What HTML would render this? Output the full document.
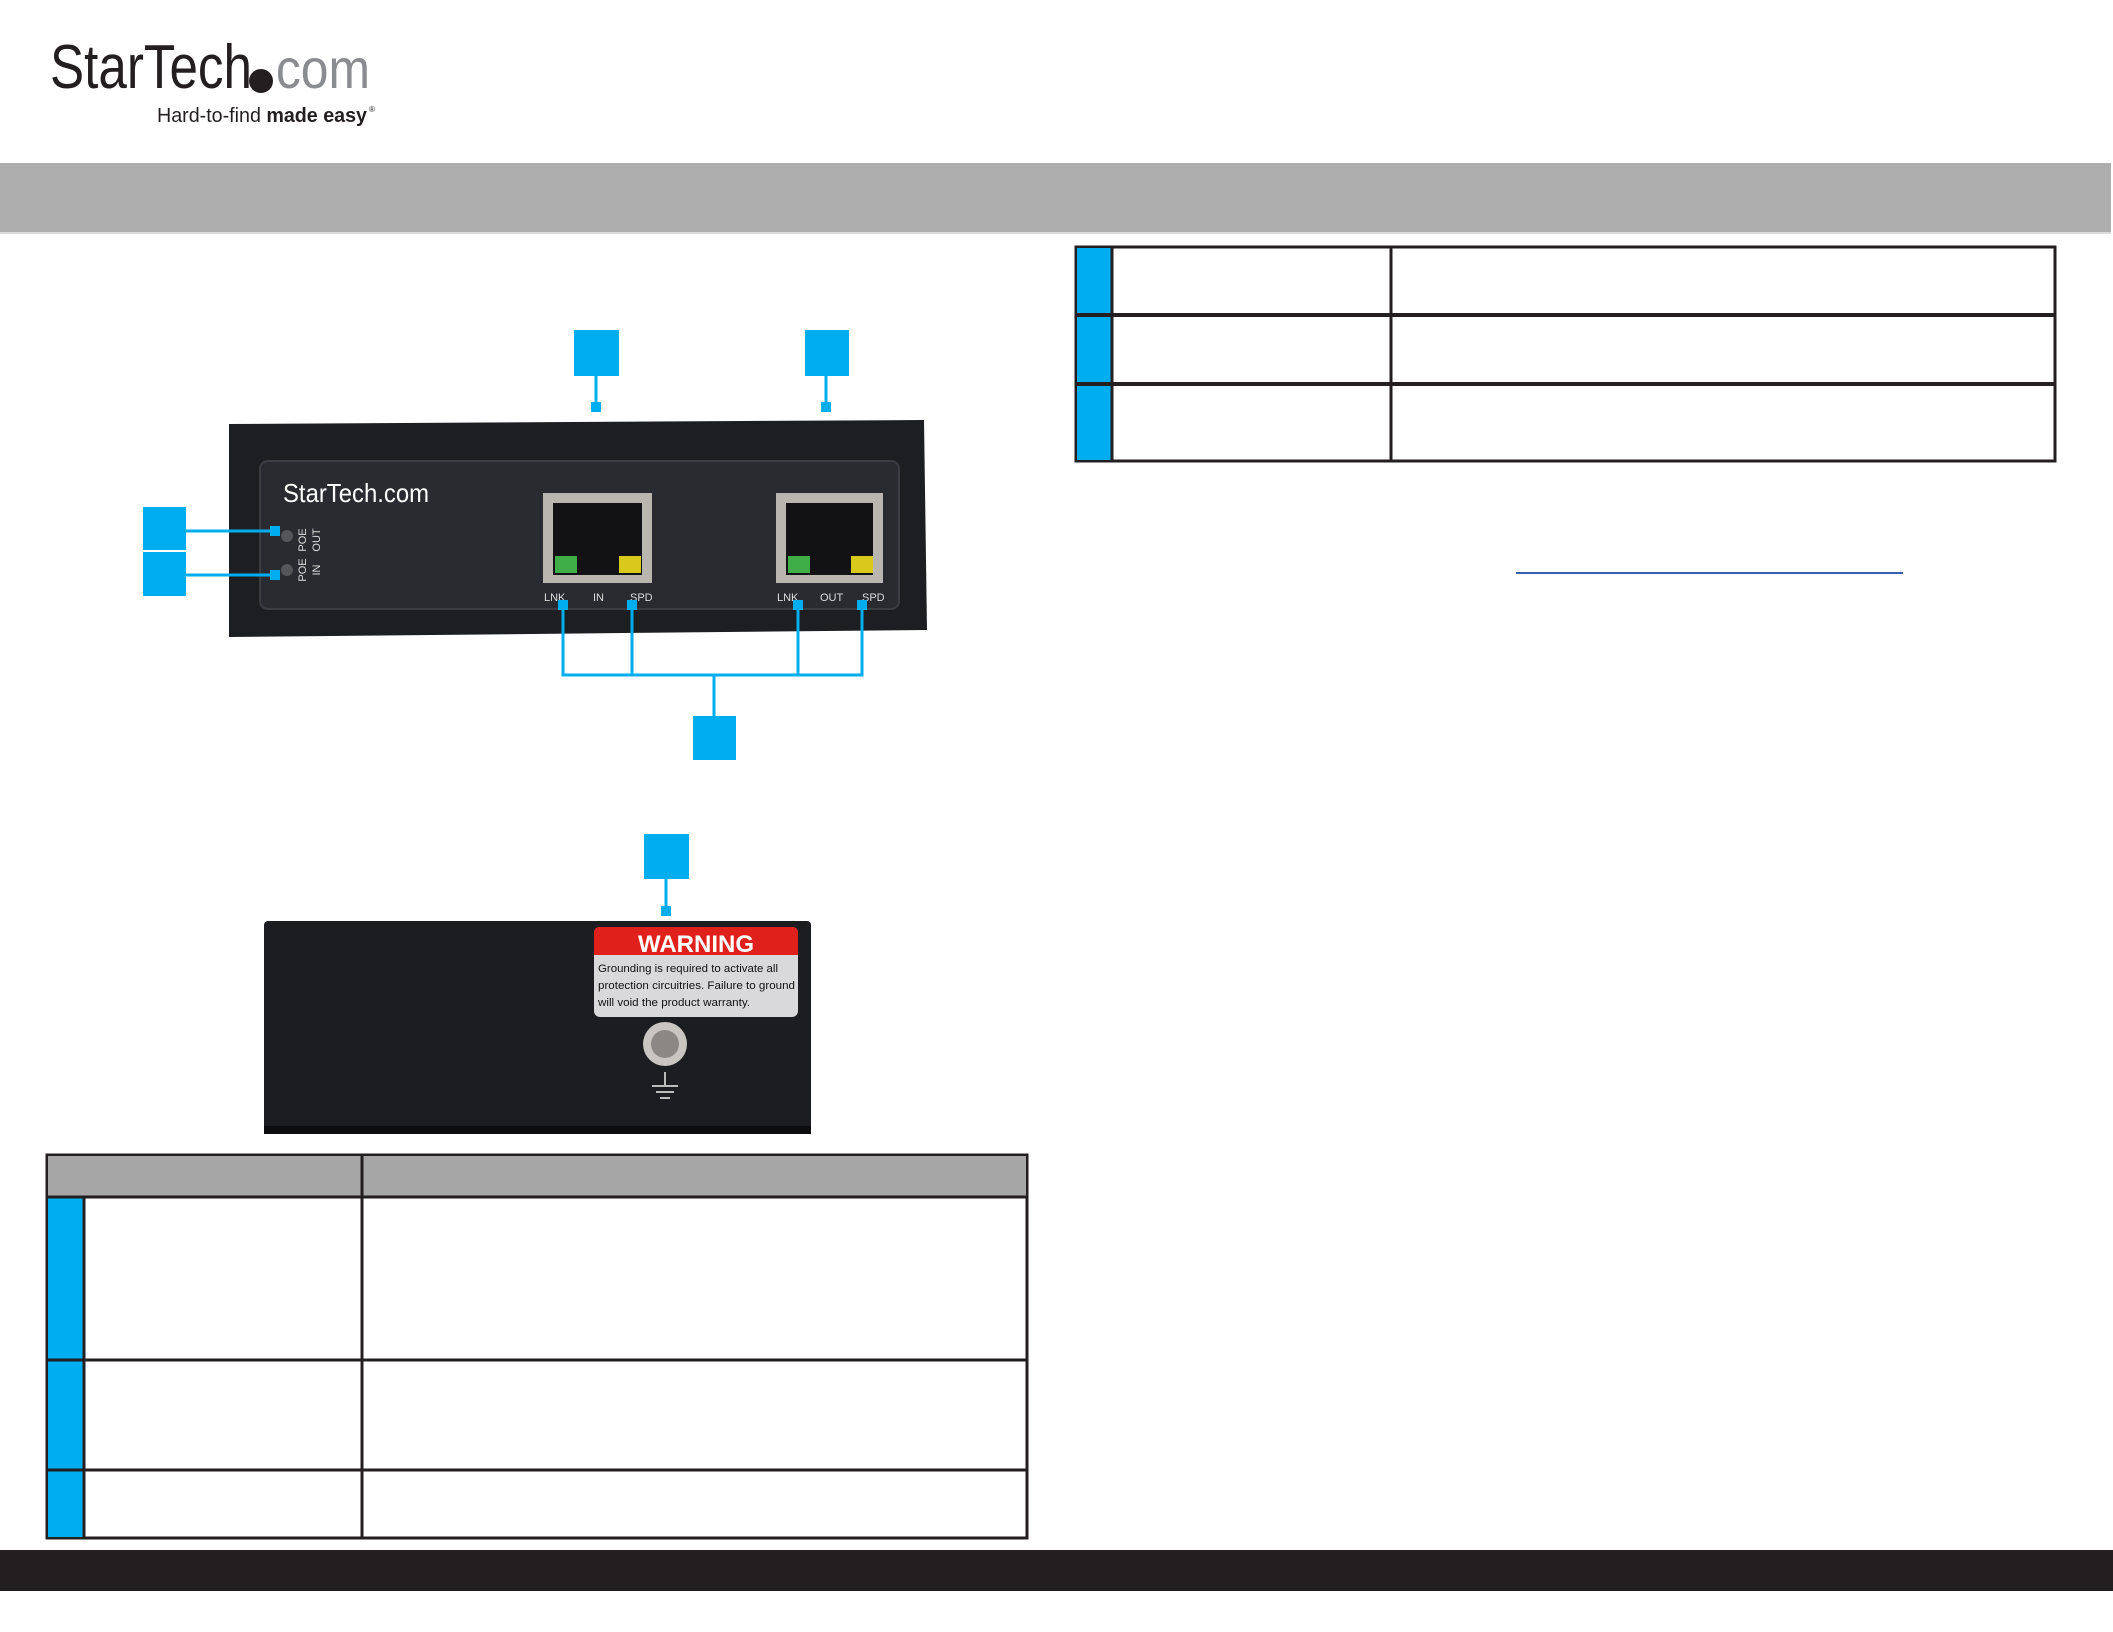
<!DOCTYPE html>
<html><head><meta charset="utf-8"><style>
html,body{margin:0;padding:0;background:#fff}
svg{display:block}
text{font-family:"Liberation Sans",sans-serif}
</style></head><body>
<svg width="2113" height="1632" viewBox="0 0 2113 1632" xmlns="http://www.w3.org/2000/svg">
<!-- logo -->
<text x="50" y="88" font-size="62" fill="#231f20" textLength="202" lengthAdjust="spacingAndGlyphs">StarTech</text>
<text x="262" y="88" font-size="56" fill="#8a8c8f" textLength="108" lengthAdjust="spacingAndGlyphs">.com</text>
<circle cx="261" cy="81" r="12" fill="#231f20"/>
<text x="157" y="122" font-size="20" fill="#231f20" textLength="210" lengthAdjust="spacingAndGlyphs">Hard-to-find <tspan font-weight="bold">made easy</tspan></text>
<text x="369" y="112" font-size="8" fill="#231f20">®</text>
<!-- band -->
<rect x="0" y="163" width="2111" height="69" fill="#afaeaf"/>
<rect x="0" y="232" width="2111" height="2" fill="#dcdcdc"/>

<!-- right table -->
<rect x="1076" y="247" width="979" height="214" fill="#fff" stroke="#231f20" stroke-width="3"/>
<rect x="1077" y="248" width="35" height="212" fill="#00aeef"/>
<line x1="1112" y1="247" x2="1112" y2="461" stroke="#231f20" stroke-width="3"/>
<line x1="1391" y1="247" x2="1391" y2="461" stroke="#231f20" stroke-width="3"/>
<line x1="1076" y1="315" x2="2055" y2="315" stroke="#231f20" stroke-width="4"/>
<line x1="1076" y1="384" x2="2055" y2="384" stroke="#231f20" stroke-width="4"/>
<line x1="1516" y1="573" x2="1903" y2="573" stroke="#3a5fb0" stroke-width="2"/>

<!-- front device -->
<path d="M229 424 L924 420 L927 630 L229 637 Z" fill="#1d1e22"/>
<rect x="260" y="461" width="639" height="148" rx="8" fill="#2a2b30" stroke="#3c3d42" stroke-width="2"/>
<text x="283" y="502" font-size="26" fill="#fff" textLength="146" lengthAdjust="spacingAndGlyphs">StarTech.com</text>
<circle cx="287" cy="536" r="6" fill="#55565a"/>
<circle cx="287" cy="570" r="6" fill="#55565a"/>
<text transform="translate(306,540) rotate(-90)" font-size="11" fill="#ddd" text-anchor="middle">POE</text>
<text transform="translate(320,540) rotate(-90)" font-size="11" fill="#ddd" text-anchor="middle">OUT</text>
<text transform="translate(306,570) rotate(-90)" font-size="11" fill="#ddd" text-anchor="middle">POE</text>
<text transform="translate(320,570) rotate(-90)" font-size="11" fill="#ddd" text-anchor="middle">IN</text>
<!-- ports -->
<g>
<rect x="543" y="493" width="109" height="90" fill="#b9b6b0"/>
<rect x="553" y="503" width="89" height="72" fill="#121214"/>
<rect x="555" y="556" width="22" height="17" fill="#3fae49"/>
<rect x="619" y="556" width="22" height="17" fill="#d8c91c"/>
<rect x="776" y="493" width="107" height="90" fill="#b9b6b0"/>
<rect x="786" y="503" width="87" height="72" fill="#121214"/>
<rect x="788" y="556" width="22" height="17" fill="#3fae49"/>
<rect x="851" y="556" width="22" height="17" fill="#d8c91c"/>
</g>
<g font-size="11" fill="#ddd">
<text x="544" y="601">LNK</text><text x="593" y="601">IN</text><text x="630" y="601">SPD</text>
<text x="777" y="601">LNK</text><text x="820" y="601">OUT</text><text x="862" y="601">SPD</text>
</g>
<!-- callouts front -->
<g fill="#00aeef" stroke="#00aeef">
<rect x="574" y="330" width="45" height="46" stroke="none"/>
<line x1="596" y1="376" x2="596" y2="405" stroke-width="3"/>
<rect x="591" y="402" width="10" height="10" stroke="none"/>
<rect x="805" y="330" width="44" height="46" stroke="none"/>
<line x1="826" y1="376" x2="826" y2="405" stroke-width="3"/>
<rect x="821" y="402" width="10" height="10" stroke="none"/>
<rect x="143" y="507" width="43" height="43" stroke="none"/>
<rect x="143" y="552" width="43" height="44" stroke="none"/>
<line x1="186" y1="531" x2="275" y2="531" stroke-width="3"/>
<line x1="186" y1="575" x2="275" y2="575" stroke-width="3"/>
<rect x="270" y="526" width="10" height="10" stroke="none"/>
<rect x="270" y="570" width="10" height="10" stroke="none"/>
<rect x="693" y="716" width="43" height="44" stroke="none"/>
<line x1="714" y1="675" x2="714" y2="716" stroke-width="3"/>
<polyline points="563,606 563,675 862,675 862,606" fill="none" stroke-width="3"/>
<line x1="632" y1="606" x2="632" y2="675" stroke-width="3"/>
<line x1="798" y1="606" x2="798" y2="675" stroke-width="3"/>
<rect x="558" y="600" width="10" height="10" stroke="none"/>
<rect x="627" y="600" width="10" height="10" stroke="none"/>
<rect x="793" y="600" width="10" height="10" stroke="none"/>
<rect x="857" y="600" width="10" height="10" stroke="none"/>
<!-- side callout -->
<rect x="644" y="834" width="45" height="45" stroke="none"/>
<line x1="666" y1="879" x2="666" y2="910" stroke-width="3"/>
<rect x="661" y="906" width="10" height="10" stroke="none"/>
</g>

<!-- side device -->
<rect x="264" y="921" width="547" height="213" rx="4" fill="#1c1d21"/>
<rect x="264" y="1126" width="547" height="8" fill="#0c0c0e"/>
<rect x="594" y="927" width="204" height="90" rx="6" fill="#d9d9db"/>
<path d="M594 955 L594 933 Q594 927 600 927 L792 927 Q798 927 798 933 L798 955 Z" fill="#e0201b"/>
<text x="696" y="952" font-size="24" font-weight="bold" fill="#fff" text-anchor="middle">WARNING</text>
<text x="598" y="972" font-size="11" fill="#111" textLength="180" lengthAdjust="spacingAndGlyphs">Grounding is required to activate all</text>
<text x="598" y="989" font-size="11" fill="#111" textLength="197" lengthAdjust="spacingAndGlyphs">protection circuitries. Failure to ground</text>
<text x="598" y="1006" font-size="11" fill="#111" textLength="152" lengthAdjust="spacingAndGlyphs">will void the product warranty.</text>
<circle cx="665" cy="1044" r="22" fill="#c9c6c2"/>
<circle cx="665" cy="1044" r="14" fill="#8a8784"/>
<g stroke="#bbb" stroke-width="2">
<line x1="665" y1="1072" x2="665" y2="1086"/>
<line x1="652" y1="1086" x2="678" y2="1086"/>
<line x1="656" y1="1092" x2="674" y2="1092"/>
<line x1="660" y1="1098" x2="670" y2="1098"/>
</g>

<!-- bottom table -->
<rect x="47" y="1155" width="980" height="383" fill="#fff" stroke="#231f20" stroke-width="3"/>
<rect x="48" y="1156" width="978" height="41" fill="#a6a6a6"/>
<rect x="48" y="1197" width="36" height="340" fill="#00aeef"/>
<line x1="84" y1="1197" x2="84" y2="1538" stroke="#231f20" stroke-width="3"/>
<line x1="362" y1="1155" x2="362" y2="1538" stroke="#231f20" stroke-width="3"/>
<line x1="47" y1="1197" x2="1027" y2="1197" stroke="#231f20" stroke-width="3"/>
<line x1="47" y1="1360" x2="1027" y2="1360" stroke="#231f20" stroke-width="3"/>
<line x1="47" y1="1470" x2="1027" y2="1470" stroke="#231f20" stroke-width="3"/>

<!-- footer -->
<rect x="0" y="1550" width="2113" height="41" fill="#231f20"/>
</svg>
</body></html>
